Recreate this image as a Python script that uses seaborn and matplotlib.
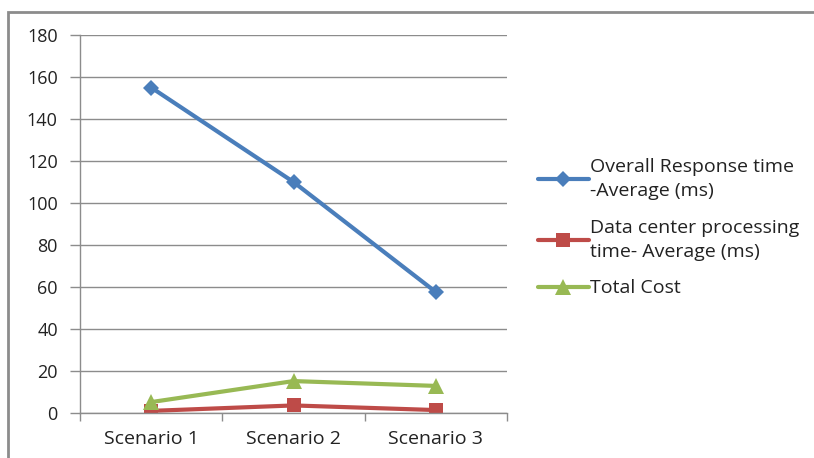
import matplotlib
matplotlib.use("Agg")
import matplotlib.pyplot as plt
import seaborn as sns
import pandas as pd
from matplotlib.patches import Rectangle

scenarios = ["Scenario 1", "Scenario 2", "Scenario 3"]
response_time = [155, 110, 57.6]
dc_processing = [1.0, 3.6, 1.4]
total_cost = [5.2, 15.2, 12.9]
series_names = [
    "Overall Response time\n-Average (ms)",
    "Data center processing\ntime- Average (ms)",
    "Total Cost",
]
y_ticks = list(range(0, 181, 20))

df = pd.DataFrame({
    "Scenario": scenarios * 3,
    "Value": response_time + dc_processing + total_cost,
    "Series": [series_names[0]] * 3 + [series_names[1]] * 3 + [series_names[2]] * 3,
})

sns.set_theme(style="white")
plt.rcParams["font.family"] = ["Open Sans", "DejaVu Sans"]

colors = ["#4a7ebb", "#be4b48", "#98b954"]
markers = ["D", "s", "^"]
sizes = [8, 10, 11]
text_color = "#222222"
axis_color = "#8c8c8c"

fig = plt.figure(figsize=(8.14, 4.58), dpi=100)
ax = fig.add_axes([80 / 814, 1 - 413 / 458, 427 / 814, 378 / 458])

for name, c, m, s in zip(series_names, colors, markers, sizes):
    sub = df[df["Series"] == name]
    sns.lineplot(data=sub, x="Scenario", y="Value", ax=ax, color=c, marker=m,
                 markersize=s, markeredgewidth=0, linewidth=3, label=name,
                 sort=False)

ax.set_xlim(-0.5, 2.5)
ax.set_ylim(0, 180)
ax.set_yticks(y_ticks)
ax.set_xlabel("")
ax.set_ylabel("")
ax.grid(axis="y", color=axis_color, linewidth=1)
ax.set_axisbelow(True)
for side in ["top", "right"]:
    ax.spines[side].set_visible(False)
for side in ["left", "bottom"]:
    ax.spines[side].set_color(axis_color)
    ax.spines[side].set_linewidth(1)

# category labels centred between boundary ticks
ax.set_xticks([0, 1, 2])
ax.set_xticks([-0.5, 0.5, 1.5, 2.5], minor=True)
ax.tick_params(axis="x", which="major", length=0, labelsize=14, pad=12,
               labelcolor=text_color)
ax.tick_params(axis="x", which="minor", bottom=True, length=6, width=1,
               color=axis_color, direction="out")
ax.tick_params(axis="y", left=True, length=7, width=1, color=axis_color,
               direction="out", labelsize=13, pad=9, labelcolor=text_color)

leg = ax.legend(loc="center left", bbox_to_anchor=(538 / 814, 0.503),
                bbox_transform=fig.transFigure, frameon=False, fontsize=14,
                handlelength=2.6, handletextpad=0.05, labelspacing=0.95,
                borderaxespad=0, borderpad=0)
for t in leg.get_texts():
    t.set_color(text_color)
    t.set_linespacing(1.45)

# outer chart frame
fig.patches.append(Rectangle((8 / 814, -0.05), 1.2, 1 - 12 / 458 + 0.05,
                             transform=fig.transFigure, fill=False,
                             edgecolor=axis_color, linewidth=2))

fig.savefig("out.png", dpi=100)
